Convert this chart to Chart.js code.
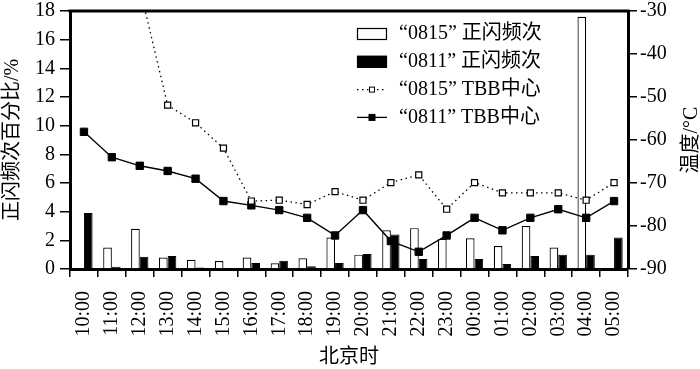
<!DOCTYPE html>
<html>
<head>
<meta charset="utf-8">
<script src="https://cdn.jsdelivr.net/npm/chart.js@4.4.1/dist/chart.umd.min.js"></script>
<style>
  html, body { margin: 0; padding: 0; background: #fff; }
  #wrap { width: 700px; height: 369px; }
</style>
</head>
<body>
<div id="wrap"><canvas id="c" width="700" height="369"></canvas></div>
<script>
const hours = ["10:00", "11:00", "12:00", "13:00", "14:00", "15:00", "16:00", "17:00", "18:00", "19:00",
  "20:00", "21:00", "22:00", "23:00", "00:00", "01:00", "02:00", "03:00", "04:00", "05:00"];

// 正闪频次百分比 (%)
const flash0815 = [null, 1.5, 2.8, 0.8, 0.65, 0.55, 0.8, 0.4, 0.75, 2.2, 1.0, 2.7, 2.85, 2.1, 2.15, 1.6, 3.0, 1.5, 17.6, null];
const flash0811 = [3.9, 0.15, 0.85, 0.9, 0.1, 0.07, 0.42, 0.58, 0.2, 0.42, 1.05, 2.4, 0.7, 0.07, 0.7, 0.35, 0.9, 1.0, 1.0, 2.2];

// TBB中心温度 (°C)
const tbb0815 = [null, null, -24.7, -51.9, -56, -61.9, -74.2, -74, -75, -72, -74, -69.9, -68.1, -76.1, -69.9, -72.3, -72.3, -72.3, -74, -69.9];
const tbb0811 = [-58.1, -64, -66, -67.2, -69, -74.2, -75.2, -76.3, -78.1, -82.2, -76.3, -83.5, -86, -82.2, -78.1, -81, -78.1, -76.1, -78.1, -74.2];

const SERIF = "'Liberation Serif', 'Noto Sans CJK SC', serif";
const CJK = "'Noto Sans CJK SC', sans-serif";
const tickFont = { family: SERIF, size: 20 };

// legend, top frame and right title drawn by hand
const extras = {
  id: "extras",
  afterDraw(chart) {
    const ctx = chart.ctx;
    const a = chart.chartArea;
    ctx.save();
    // top frame line
    ctx.strokeStyle = "#000";
    ctx.lineWidth = 3;
    ctx.beginPath();
    ctx.moveTo(a.left - 1.5, a.top);
    ctx.lineTo(a.right + 1.5, a.top);
    ctx.stroke();

    // right axis title, reading bottom to top
    ctx.translate(692, (a.top + a.bottom) / 2);
    ctx.rotate(-Math.PI / 2);
    ctx.fillStyle = "#000";
    ctx.font = "20px " + SERIF;
    ctx.textAlign = "center";
    ctx.textBaseline = "middle";
    ctx.fillText("温度/°C", 0, 0);
    ctx.restore();

    // legend
    ctx.save();
    const ds = chart.data.datasets;
    const order = [2, 3, 0, 1];
    const x0 = 357, w = 30, tx = 399;
    let y = 34;
    ctx.font = "20px " + SERIF;
    ctx.textBaseline = "middle";
    ctx.textAlign = "left";
    order.forEach(i => {
      const d = ds[i];
      ctx.strokeStyle = "#000";
      ctx.fillStyle = "#000";
      if (d.type === "bar") {
        ctx.lineWidth = 1.2;
        ctx.fillStyle = d.backgroundColor;
        ctx.fillRect(x0, y - 6, w, 12);
        ctx.strokeRect(x0 + 0.5, y - 5.5, w - 1, 11);
      } else {
        ctx.lineWidth = 1.3;
        ctx.setLineDash(d.borderDash || []);
        ctx.beginPath();
        ctx.moveTo(x0, y);
        ctx.lineTo(x0 + w, y);
        ctx.stroke();
        ctx.setLineDash([]);
        const s = d.borderDash ? 5 : 6;
        ctx.fillStyle = d.pointBackgroundColor;
        ctx.fillRect(x0 + w / 2 - s / 2, y - s / 2, s, s);
        ctx.lineWidth = 1;
        ctx.strokeRect(x0 + w / 2 - s / 2, y - s / 2, s, s);
      }
      ctx.fillStyle = "#000";
      ctx.fillText(d.label, tx, y);
      y += 27.8;
    });
    ctx.restore();
  }
};

function fixV(w) {
  return s => { s.width = w; s.paddingTop = 0; s.paddingBottom = 0; };
}

new Chart(document.getElementById("c"), {
  type: "bar",
  data: {
    labels: hours,
    datasets: [
      {
        type: "line", label: "“0815” TBB中心", data: tbb0815, yAxisID: "y1", order: 0,
        borderColor: "#000", borderWidth: 1.3, borderDash: [1.5, 3.5],
        pointStyle: "rect", pointRadius: 4.3, pointBorderWidth: 1.2,
        pointBackgroundColor: "#fff", pointBorderColor: "#000"
      },
      {
        type: "line", label: "“0811” TBB中心", data: tbb0811, yAxisID: "y1", order: 0,
        borderColor: "#000", borderWidth: 1.4,
        pointStyle: "rect", pointRadius: 5.2, pointBorderWidth: 1,
        pointBackgroundColor: "#000", pointBorderColor: "#000"
      },
      {
        type: "bar", label: "“0815” 正闪频次", data: flash0815, yAxisID: "y", order: 1,
        backgroundColor: "#fff", borderColor: "#000", borderWidth: 1.2,
        barPercentage: 1.0, categoryPercentage: 0.62
      },
      {
        type: "bar", label: "“0811” 正闪频次", data: flash0811, yAxisID: "y", order: 1,
        backgroundColor: "#000", borderColor: "#000", borderWidth: 1,
        barPercentage: 1.0, categoryPercentage: 0.62
      }
    ]
  },
  options: {
    responsive: false,
    animation: false,
    layout: { padding: { top: 11, left: 0, right: 0, bottom: 0 }, autoPadding: false },
    plugins: { legend: { display: false }, tooltip: { enabled: false } },
    scales: {
      x: {
        offset: true,
        grid: { offset: true, drawOnChartArea: false, tickLength: 8, color: "#000", lineWidth: 1.5 },
        border: { color: "#000", width: 3 },
        ticks: { color: "#000", font: tickFont, minRotation: 90, maxRotation: 90, autoSkip: false, padding: 14 },
        title: { display: true, text: "北京时", color: "#000", font: { family: CJK, size: 20 }, padding: { top: 0, bottom: 2 } },
        afterFit(s) { s.height = 100; s.paddingLeft = 0; s.paddingRight = 0; }
      },
      y: {
        position: "left", min: 0, max: 18,
        grid: { drawOnChartArea: false, tickLength: 10, color: "#000", lineWidth: 1.5 },
        border: { color: "#000", width: 3 },
        ticks: { stepSize: 2, color: "#000", font: tickFont, padding: 5 },
        title: { display: true, text: "正闪频次百分比/%", color: "#000", font: { family: SERIF, size: 20 }, padding: { top: 1, bottom: 0 } },
        afterFit: fixV(70)
      },
      y1: {
        position: "right", min: -90, max: -30,
        grid: { drawOnChartArea: false, tickLength: 9, color: "#000", lineWidth: 1.5 },
        border: { color: "#000", width: 3 },
        ticks: { stepSize: 10, color: "#000", font: tickFont, padding: 3 },
        afterFit: fixV(72)
      }
    }
  },
  plugins: [extras]
});
</script>
</body>
</html>
